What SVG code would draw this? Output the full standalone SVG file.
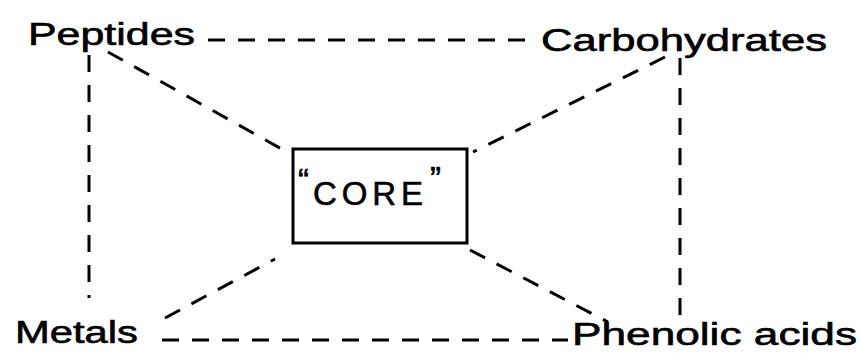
<svg xmlns="http://www.w3.org/2000/svg" width="861" height="353" viewBox="0 0 861 353">
<style>
.lbl{font-family:"Liberation Sans","DejaVu Sans",sans-serif;font-size:31px;fill:#000;stroke:#000;stroke-width:0.6}
.dash{stroke:#000;stroke-width:3;stroke-dasharray:17 13;fill:none}
.box{stroke:#000;stroke-width:3;fill:#fff}
</style>
<rect width="861" height="353" fill="#fff"/>
<g id="connectors">
<line class="dash" x1="208" y1="40" x2="538" y2="40"/>
<line class="dash" x1="89" y1="55" x2="89" y2="298"/>
<line class="dash" x1="680" y1="58" x2="680" y2="320"/>
<line class="dash" x1="162" y1="340" x2="568" y2="340"/>
<line class="dash" x1="108" y1="52" x2="287" y2="152"/>
<line class="dash" x1="665" y1="57" x2="473" y2="152"/>
<line class="dash" x1="165" y1="318" x2="275" y2="259"/>
<line class="dash" x1="470" y1="250" x2="608" y2="322"/>
</g>
<g id="peptides"><text class="lbl" x="28" y="45" textLength="167" lengthAdjust="spacingAndGlyphs">Peptides</text></g>
<g id="carbohydrates"><text class="lbl" x="541" y="51" textLength="286" lengthAdjust="spacingAndGlyphs">Carbohydrates</text></g>
<g id="metals"><text class="lbl" x="15" y="343" textLength="123" lengthAdjust="spacingAndGlyphs">Metals</text></g>
<g id="phenolic"><text class="lbl" x="572" y="345" textLength="285" lengthAdjust="spacingAndGlyphs">Phenolic acids</text></g>
<g id="core">
<rect class="box" x="293" y="149" width="174" height="94"/>
<text class="lbl" style="font-size:33px"><tspan x="298" y="192">“</tspan><tspan x="313" y="205" textLength="110" lengthAdjust="spacing">CORE</tspan><tspan x="430" y="190">”</tspan></text>
</g>
</svg>
